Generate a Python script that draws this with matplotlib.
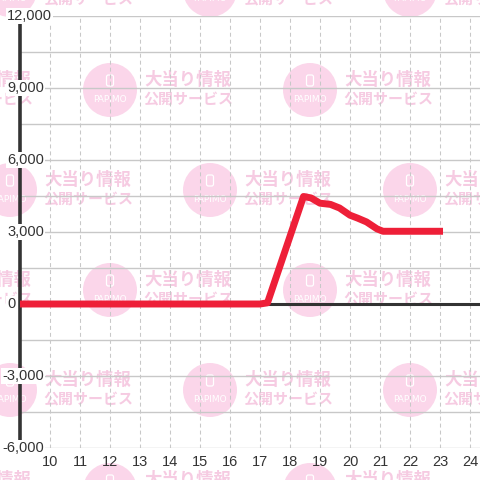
import matplotlib
matplotlib.use("Agg")
import matplotlib.pyplot as plt
from matplotlib.patches import Circle, FancyBboxPatch
from matplotlib.transforms import blended_transform_factory, ScaledTranslation

# данные графика (час -> разница)
hours = [9.0, 17.0, 17.25, 18.45, 18.7, 19.0, 19.35, 19.65, 20.0, 20.25, 20.55, 20.9, 21.1, 23.1]
values = [0, 0, 50, 4480, 4420, 4200, 4150, 4000, 3700, 3580, 3420, 3130, 3030, 3030]

x_ticks = list(range(10, 25))
y_ticks = [12000, 9000, 6000, 3000, 0, -3000, -6000]
y_minor = [10500, 7500, 4500, 1500, -1500, -4500]

W = H = 480
fig = plt.figure(figsize=(4.8, 4.8), dpi=100)
fig.patch.set_facecolor("white")

# водяные знаки на фоне
def px(x, y):
    return x / W, 1 - y / H

wm_rows = {-10: [10, 210, 410], 90: [-90, 110, 310], 190: [10, 210, 410],
           290: [-90, 110, 310], 390: [10, 210, 410], 490: [-90, 110, 310]}
jp = ["Noto Sans CJK JP", "DejaVu Sans"]
for cy, xs in wm_rows.items():
    for cx in xs:
        fig.patches.append(Circle(px(cx, cy), 27 / W, transform=fig.transFigure,
                                  facecolor="#fbd6ea", edgecolor="none", zorder=-2))
        ix, iy = px(cx - 3.5, cy - 4)
        fig.patches.append(FancyBboxPatch((ix, iy), 7 / W, 11 / H,
                                          boxstyle="round,pad=0,rounding_size=0.004",
                                          transform=fig.transFigure, facecolor="none",
                                          edgecolor="white", lw=0.9, zorder=-1))
        fig.text(*px(cx, cy + 9), "PAPIMO", color="white", fontsize=6.5,
                 ha="center", va="center", zorder=-1)
        fig.text(*px(cx + 34, cy - 10), "大当り情報", color="#f6cbe2", fontsize=12.5,
                 fontweight="bold", family=jp, ha="left", va="center", zorder=-1)
        fig.text(*px(cx + 33, cy + 9), "公開サービス", color="#f6cbe2", fontsize=10.8,
                 fontweight="bold", family=jp, ha="left", va="center", zorder=-1)

ax = fig.add_axes([20 / W, 32 / H, 460 / W, 432 / H])
ax.set_facecolor("none")
ax.set_xlim(9, 24.333)
ax.set_ylim(-6000, 12000)

for s in ["top", "right", "bottom"]:
    ax.spines[s].set_visible(False)
ax.spines["left"].set_color("#333333")
ax.spines["left"].set_linewidth(2.6)
ax.spines["left"].set_zorder(3)

ax.set_xticks(x_ticks)
ax.set_xticklabels([str(h) for h in x_ticks], fontsize=10.5, color="#333333",
                   family="Liberation Sans")
ax.set_yticks(y_ticks)
ax.set_yticks(y_minor, minor=True)
ax.set_yticklabels([])
ax.tick_params(axis="both", which="both", length=0)
ax.tick_params(axis="x", pad=5)

ax.grid(axis="y", which="both", color="#c8c8c8", lw=1.0, zorder=1)
ax.grid(axis="x", color="#c8c8c8", lw=0.75, linestyle=(0, (3.8, 2.9)), zorder=1)
ax.axhline(0, color="#333333", lw=2.2, zorder=2)

ax.plot(hours, values, color="#ee1f38", lw=5.0, solid_joinstyle="round",
        solid_capstyle="butt", zorder=4)

# подписи оси Y с белой подложкой
trans = blended_transform_factory(ax.transAxes, ax.transData)
for v in y_ticks:
    shift = -18 if v < 0 else -13
    t = trans + ScaledTranslation(shift / 100, 0, fig.dpi_scale_trans)
    ax.text(0, v, f"{v:,}", transform=t, ha="left", va="center", fontsize=10.5,
            color="#333333", family="Liberation Sans", zorder=5, clip_on=False,
            bbox=dict(facecolor="white", edgecolor="none", pad=1.0))

fig.savefig("out.png", dpi=100)
